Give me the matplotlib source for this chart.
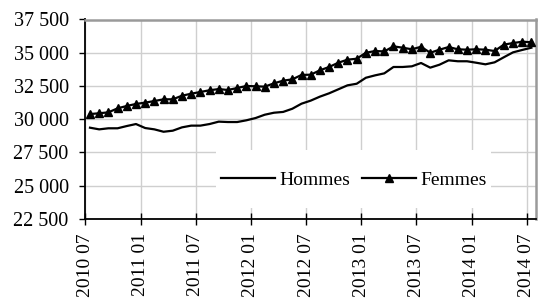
import matplotlib
matplotlib.use("Agg")
import matplotlib.pyplot as plt
from matplotlib.patches import Rectangle
from matplotlib.ticker import FuncFormatter

plt.rcParams['font.family'] = ['Liberation Serif', 'DejaVu Serif']

tick_labels = ["2010 07", "2011 01", "2011 07", "2012 01", "2012 07",
               "2013 01", "2013 07", "2014 01", "2014 07"]

hommes = [29365, 29240, 29320, 29320, 29490, 29640, 29340, 29240, 29060, 29140,
          29390, 29520, 29520, 29640, 29820, 29790, 29790, 29920, 30090, 30340,
          30490, 30550, 30790, 31170, 31400, 31700, 31950, 32250, 32550, 32670,
          33120, 33300, 33450, 33930, 33930, 33980, 34230, 33880, 34100, 34430,
          34360, 34360, 34250, 34130, 34280, 34660, 35030, 35210, 35380]

femmes = [30390, 30450, 30520, 30820, 31000, 31150, 31250, 31370, 31500, 31500,
          31770, 31920, 32050, 32180, 32270, 32200, 32350, 32500, 32480, 32450,
          32700, 32900, 33000, 33330, 33350, 33680, 33930, 34250, 34480, 34550,
          35000, 35130, 35100, 35480, 35380, 35260, 35450, 35000, 35230, 35430,
          35260, 35230, 35260, 35230, 35130, 35610, 35730, 35830, 35790]

fig = plt.figure(figsize=(5.38, 3.04), dpi=100)
ax = fig.add_axes([85.4/538, 1-219/304, (536-85.4)/538, (219-19.5)/304])

x = list(range(len(hommes)))
ax.plot(x, hommes, color='black', lw=1.6, label='Hommes', zorder=3)
ax.plot(x, femmes, color='black', lw=1.6, marker='^', markersize=6,
        label='Femmes', zorder=3)

ax.set_xlim(-0.5, len(hommes) - 0.5)
ax.set_ylim(22500, 37500)
ax.set_yticks(range(22500, 37501, 2500))
ax.yaxis.set_major_formatter(FuncFormatter(lambda v, p: f"{int(v):,}".replace(",", " ")))
xt = [-0.5 + 6*k for k in range(len(tick_labels))]
ax.set_xticks(xt)
ax.set_xticklabels(tick_labels, rotation=90, fontsize=14)
ax.tick_params(axis='y', labelsize=14.5, direction='out', length=4, width=1, pad=8)
ax.tick_params(axis='x', direction='inout', length=8, width=1, pad=6)

ax.set_axisbelow(True)
ax.grid(True, color='#cfcfcf', lw=1)

for s in ['left', 'bottom']:
    ax.spines[s].set_color('black')
    ax.spines[s].set_linewidth(1.3)
for s in ['top', 'right']:
    ax.spines[s].set_color('#9a9a9a')
    ax.spines[s].set_linewidth(1.8)

# white legend background
rect = Rectangle((216/538, 1-208/304), (491-216)/538, (208-150)/304,
                 transform=fig.transFigure, facecolor='white', edgecolor='none',
                 zorder=1)
ax.add_patch(rect)

leg = ax.legend(loc='center', bbox_to_anchor=(354/538, 1-180/304),
                bbox_transform=fig.transFigure, ncol=2, frameon=False,
                fontsize=14, handlelength=2.75, handletextpad=0.25,
                columnspacing=0.6, borderpad=0.2)

fig.savefig("out.png", dpi=100)
